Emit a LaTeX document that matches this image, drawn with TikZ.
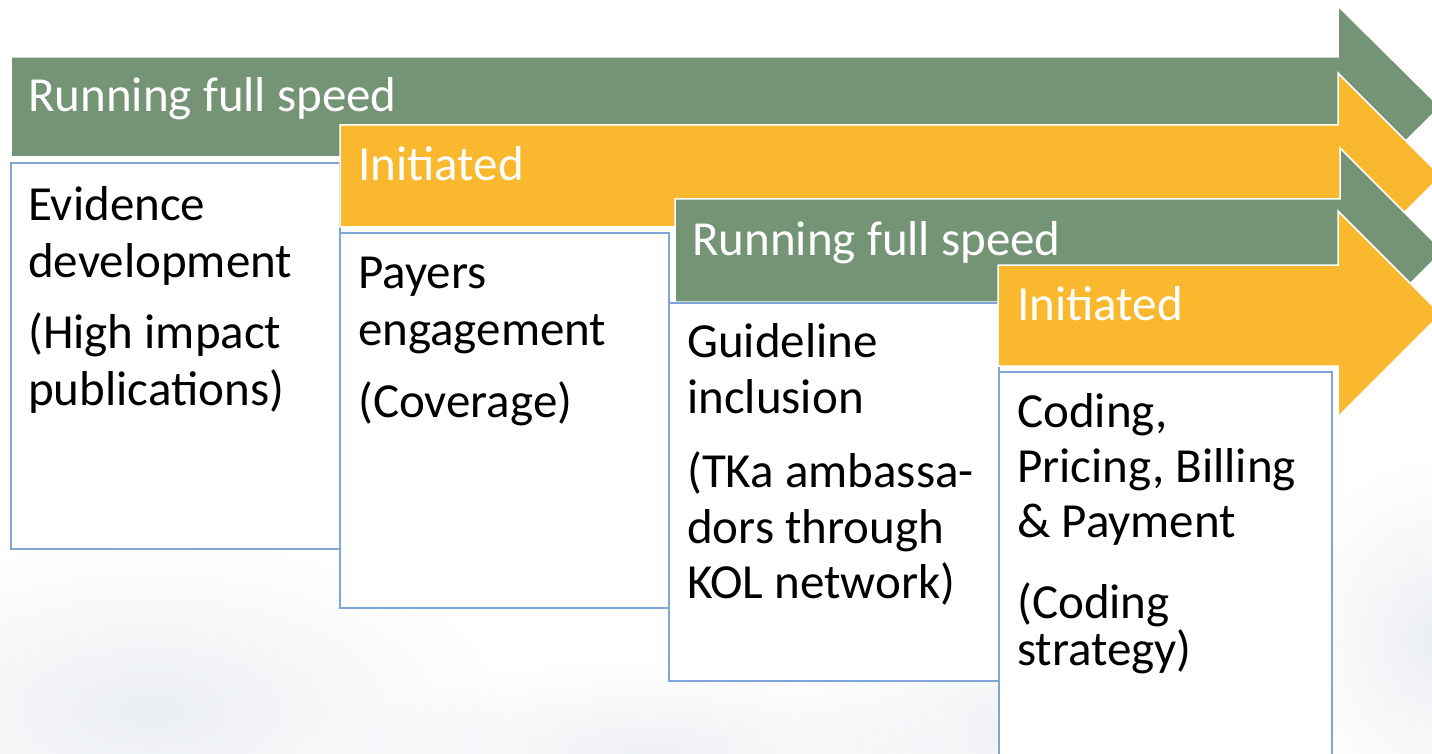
\documentclass[tikz,border=0pt]{standalone}
\usepackage{fontspec}
\setmainfont{Carlito}
\usetikzlibrary{fadings}
\definecolor{arrgreen}{RGB}{116,148,117}
\definecolor{arrorange}{RGB}{249,184,46}
\definecolor{boxblue}{RGB}{126,166,214}
\definecolor{cloud}{RGB}{200,210,220}
\tikzfading[name=softfade, inner color=transparent!0, outer color=transparent!100]
\tikzset{
  arrowshape/.style={draw=white, line width=1.5pt, line join=miter},
  stagebox/.style={draw=boxblue, fill=white, line width=2pt},
  lbl/.style={anchor=base west, inner sep=0pt, text=white, font=\fontsize{49}{56}\selectfont},
  txt/.style={anchor=base west, inner sep=0pt, text=black, font=\fontsize{49}{56}\selectfont},
  blob/.style={fill=cloud, path fading=softfade}
}
\begin{document}
\begin{tikzpicture}[x=1pt,y=-1pt]
\useasboundingbox (0,0) rectangle (1432,754);
\clip (0,0) rectangle (1432,754);
\fill[white] (0,0) rectangle (1432,754);
% faint cloudy background
\fill[blob, opacity=0.35] (-200,540) rectangle (500,880);
\fill[blob, opacity=0.3] (350,660) rectangle (950,840);
\fill[blob, opacity=0.3] (800,600) rectangle (1250,860);
\fill[blob, opacity=0.35] (1290,460) rectangle (1580,820);

% arrow 1 (green)
\fill[arrgreen, arrowshape] (11,57) -- (1338,57) -- (1338,6) -- (1440,107) -- (1338,208) -- (1338,157) -- (11,157) -- cycle;
\node[lbl] (a1) at (28,112) {Running full speed};
% box 1
\draw[stagebox] (11,163) rectangle (340,549);
\node[txt] (b1a) at (28,221) {Evidence};
\node[txt] (b1b) at (28,277) {development};
\node[txt] (b1c) at (28,348) {(High impact};
\node[txt] (b1d) at (28,405) {publications)};

% arrow 2 (orange)
\fill[arrorange, arrowshape] (340,125) -- (1338,125) -- (1338,73) -- (1441,176) -- (1338,279) -- (1338,227) -- (340,227) -- cycle;
\node[lbl] (a2) at (358,181) {Initiated};
% box 2
\draw[stagebox] (340,233) rectangle (669,608);
\node[txt] (b2a) at (358,288) {Payers};
\node[txt] (b2b) at (358,345) {engagement};
\node[txt] (b2c) at (358,417) {(Coverage)};

% arrow 3 (green)
\fill[arrgreen, arrowshape] (675,199) -- (1340,199) -- (1340,148) -- (1443,251) -- (1340,354) -- (1340,302) -- (675,302) -- cycle;
\node[lbl] (a3) at (692,255) {Running full speed};
% box 3
\draw[stagebox] (669,303) rectangle (999,681);
\node[txt] (b3a) at (687,357) {Guideline};
\node[txt] (b3b) at (687,413) {inclusion};
\node[txt] (b3c) at (687,487) {(TKa ambassa-};
\node[txt] (b3d) at (687,543) {dors through};
\node[txt] (b3e) at (687,598) {KOL network)};

% arrow 4 (orange)
\fill[arrorange, arrowshape] (998,265) -- (1338,265) -- (1338,211) -- (1441,314) -- (1338,417) -- (1338,366) -- (998,366) -- cycle;
\node[lbl] (a4) at (1017,320) {Initiated};
% box 4
\draw[stagebox] (999,372) rectangle (1332,770);
\node[txt] (b4a) at (1017,427) {Coding,};
\node[txt] (b4b) at (1017,482) {Pricing, Billing};
\node[txt] (b4c) at (1017,537) {\& Payment};
\node[txt] (b4d) at (1017,618) {(Coding};
\node[txt] (b4e) at (1017,665) {strategy)};
\end{tikzpicture}
\end{document}
